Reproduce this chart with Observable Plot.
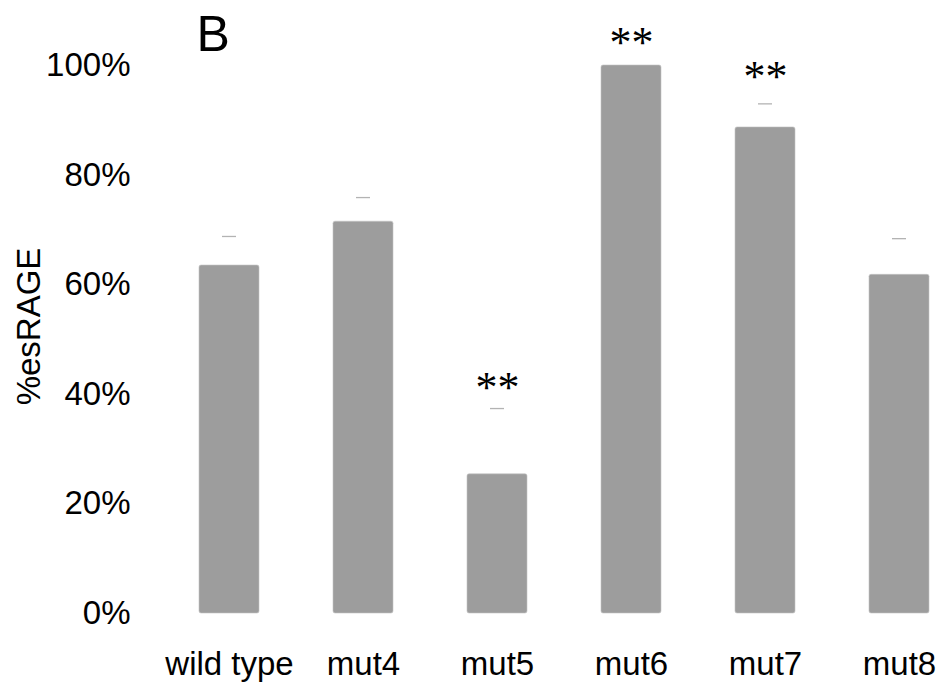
<!DOCTYPE html>
<html>
<head>
<meta charset="utf-8">
<script src="https://cdn.jsdelivr.net/npm/d3@7"></script>
<script src="https://cdn.jsdelivr.net/npm/@observablehq/plot@0.6"></script>
<style>
  html, body { margin: 0; padding: 0; background: #fff; }
  #chart svg { display: block; }
</style>
</head>
<body>
<div id="chart"></div>
<script>
const categories = ["wild type", "mut4", "mut5", "mut6", "mut7", "mut8"];
const values     = [0.635, 0.715, 0.254, 1.000, 0.887, 0.618];
const errTop     = [0.688, 0.759, 0.374, null, 0.930, 0.684];
const stars      = ["", "", "**", "**", "**", ""];
const starY      = [null, null, 0.411, 1.042, 0.980, null];
const yTicks     = [0, 0.2, 0.4, 0.6, 0.8, 1.0];
const panelLabel = "B";
const yTitle     = "%esRAGE";

const rows = categories.map((c, i) => ({cat: c, v: values[i], err: errTop[i], star: stars[i], sy: starY[i]}));

const chart = Plot.plot({
  width: 944,
  height: 686,
  marginLeft: 183,
  marginRight: 0,
  marginTop: 65,
  marginBottom: 73,
  style: {fontFamily: "Liberation Sans, Arial, sans-serif", fontSize: "33px", color: "#000", background: "#fff"},
  x: {domain: categories, paddingInner: 0.555, paddingOuter: 0.1, label: null},
  y: {domain: [0, 1], label: null},
  marks: [
    Plot.axisX({tickSize: 0, tickPadding: 38, fontSize: 33, label: null}),
    Plot.axisY({ticks: yTicks, tickFormat: d3.format(".0%"), tickSize: 0, tickPadding: 53, fontSize: 33, label: null}),
    Plot.barY(rows, {x: "cat", y: "v", fill: "#9d9d9d", stroke: "#c4c4c4", strokeWidth: 0.6, rx: 2}),
    Plot.tickY(rows.filter(d => d.err != null), {x: "cat", y: "err", stroke: "#b3b3b3", strokeWidth: 1.3, insetLeft: 23, insetRight: 23}),
    Plot.text(rows.filter(d => d.star), {x: "cat", y: "sy", text: "star", fontFamily: "Liberation Serif, Times New Roman, serif", fontSize: 44, fill: "#000", lineAnchor: "middle"}),
    Plot.text([panelLabel], {frameAnchor: "top-left", text: d => d, fontSize: 50, dx: 13, dy: -50, lineAnchor: "top", textAnchor: "start", fill: "#000"}),
    Plot.text([yTitle], {frameAnchor: "left", text: d => d, rotate: -90, fontSize: 33, dx: -154, dy: -13, lineAnchor: "middle", textAnchor: "middle", fill: "#000"})
  ]
});
document.getElementById("chart").appendChild(chart);
</script>
</body>
</html>
